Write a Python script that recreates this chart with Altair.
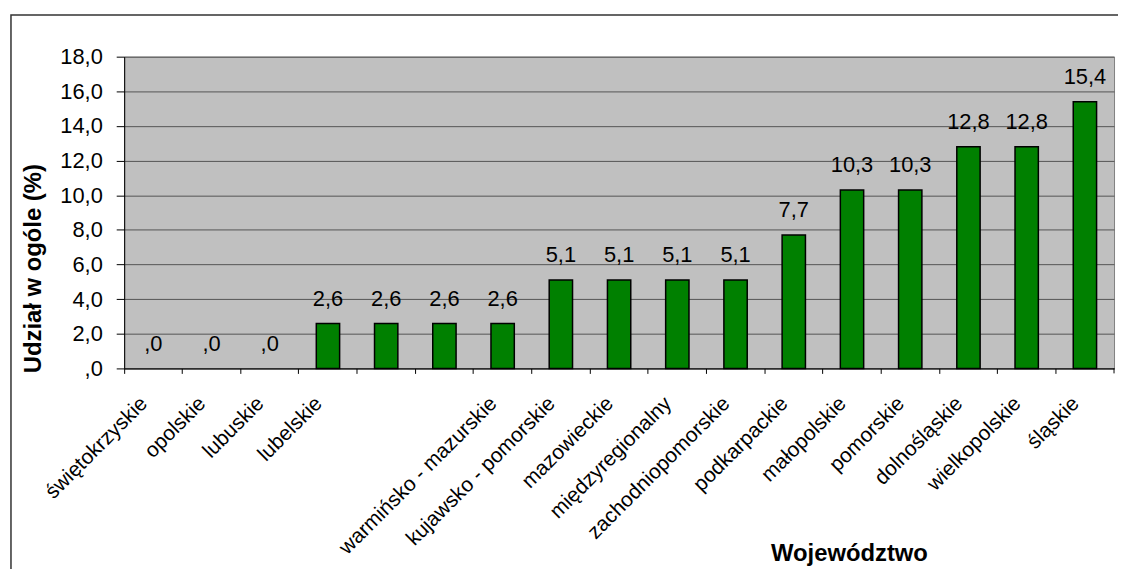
import json
import altair as alt
import pandas as pd

# ---- data ----
categories = [
    "świętokrzyskie", "opolskie", "lubuskie", "lubelskie", "łódzkie", "podlaskie",
    "warmińsko - mazurskie", "kujawsko - pomorskie", "mazowieckie", "międzyregionalny",
    "zachodniopomorskie", "podkarpackie", "małopolskie", "pomorskie", "dolnośląskie",
    "wielkopolskie", "śląskie",
]
shown_labels = [
    "świętokrzyskie", "opolskie", "lubuskie", "lubelskie", "", "",
    "warmińsko - mazurskie", "kujawsko - pomorskie", "mazowieckie", "międzyregionalny",
    "zachodniopomorskie", "podkarpackie", "małopolskie", "pomorskie", "dolnośląskie",
    "wielkopolskie", "śląskie",
]
values = [0.0, 0.0, 0.0, 2.6, 2.6, 2.6, 2.6, 5.1, 5.1, 5.1, 5.1, 7.7, 10.3, 10.3, 12.8, 12.8, 15.4]
y_ticks = [0, 2, 4, 6, 8, 10, 12, 14, 16, 18]

x_title = "Województwo"
y_title = "Udział w ogóle (%)"


def pl_fmt(v):
    s = f"{v:.1f}".replace(".", ",")
    if s.startswith("0"):
        s = s[1:]
    return s


df = pd.DataFrame({"woj": categories, "val": values, "lab": [pl_fmt(v) for v in values]})

hidden = [c for c, s in zip(categories, shown_labels) if s == ""]
x_label_expr = "indexof(%s, datum.value) >= 0 ? '' : datum.value" % json.dumps(hidden, ensure_ascii=False)
y_label_expr = "datum.value == 0 ? ',0' : replace(format(datum.value, '.1f'), '.', ',')"

W, H = 997, 314
FONT = "Liberation Sans"

x_enc = alt.X(
    "woj:N",
    sort=categories,
    scale=alt.Scale(domain=categories, paddingInner=0, paddingOuter=0),
    axis=alt.Axis(
        title=x_title,
        labelAngle=-45,
        labelAlign="right",
        labelBaseline="middle",
        labelFont=FONT,
        labelFontSize=21,
        labelColor="black",
        labelPadding=27,
        labelOffset=-9,
        labelOverlap=False,
        labelLimit=400,
        labelExpr=x_label_expr,
        bandPosition=0,
        tickSize=5,
        tickColor="black",
        domainColor="black",
        grid=False,
        titleFont=FONT,
        titleFontSize=24,
        titleFontWeight="bold",
        titleColor="black",
        titleX=730,
        titleY=186,
        titleAlign="center",
        titleBaseline="middle",
    ),
)

y_enc = alt.Y(
    "val:Q",
    scale=alt.Scale(domain=[0, 18], nice=False),
    axis=alt.Axis(
        title=y_title,
        values=y_ticks,
        labelExpr=y_label_expr,
        labelFont=FONT,
        labelFontSize=22,
        labelColor="black",
        labelPadding=14,
        labelOverlap=False,
        tickSize=8,
        tickColor="black",
        domainColor="black",
        grid=True,
        gridColor="#555555",
        gridWidth=1,
        titleFont=FONT,
        titleFontSize=24,
        titleFontWeight="bold",
        titleColor="black",
        titleAngle=270,
        titleX=-91,
        titleY=213,
        titleAlign="center",
        titleBaseline="middle",
    ),
)

frame_df = pd.DataFrame({"k": [0]})
frame = alt.Chart(frame_df).mark_rect(filled=False, stroke="#333333", strokeWidth=1.5).encode(
    x=alt.value(-114), x2=alt.value(1200), y=alt.value(-42), y2=alt.value(700)
)

bars = alt.Chart(df).transform_filter("datum.val > 0").mark_bar(
    color="#008000", stroke="black", strokeWidth=1.5, size=23.5
).encode(x=x_enc, y=y_enc)

labels = alt.Chart(df).mark_text(
    font=FONT, fontSize=22, color="black", baseline="middle", align="center", dy=-25
).encode(x=x_enc, y=y_enc, text="lab:N")

last_tick = alt.Chart(frame_df).mark_rule(color="black").encode(
    x=alt.value(W), y=alt.value(H), y2=alt.value(H + 5)
)

chart = (
    alt.layer(frame, bars, labels, last_tick)
    .properties(
        width=W,
        height=H,
        padding={"left": 117, "top": 47, "right": 4, "bottom": 200},
        autosize=alt.AutoSizeParams(type="none"),
        background="white",
    )
    .configure_view(fill="#C0C0C0", stroke="#808080", strokeWidth=1)
)

chart.save("out.html", embed_options={"renderer": "svg", "actions": False})
